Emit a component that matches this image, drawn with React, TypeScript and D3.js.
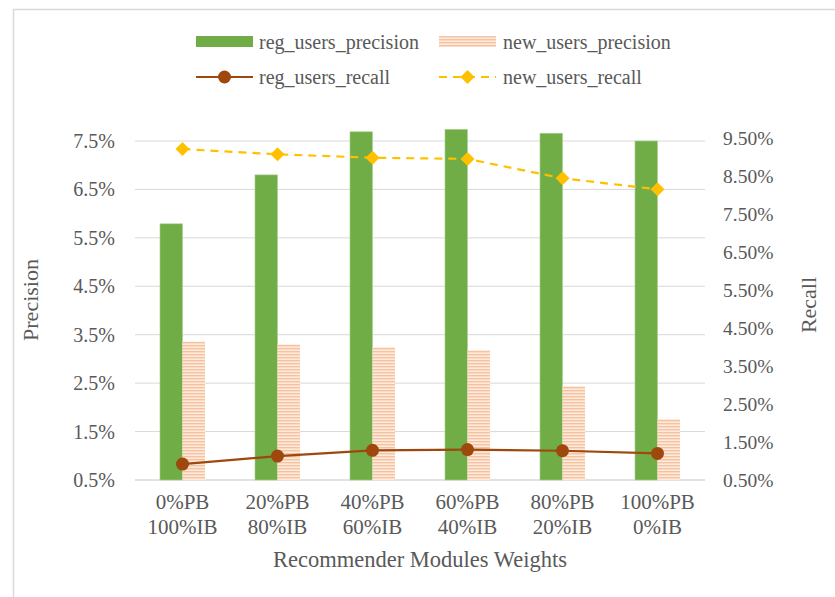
import React from "react";
import * as d3 from "d3";

const categories = [
  ["0%PB", "100%IB"],
  ["20%PB", "80%IB"],
  ["40%PB", "60%IB"],
  ["60%PB", "40%IB"],
  ["80%PB", "20%IB"],
  ["100%PB", "0%IB"],
];
const regPrecision = [5.79, 6.8, 7.69, 7.74, 7.66, 7.5];
const newPrecision = [3.36, 3.3, 3.24, 3.18, 2.44, 1.76];
const regRecall = [0.92, 1.13, 1.28, 1.3, 1.27, 1.2];
const newRecall = [9.21, 9.07, 8.98, 8.95, 8.44, 8.15];
const leftTicks = [0.5, 1.5, 2.5, 3.5, 4.5, 5.5, 6.5, 7.5];
const rightTicks = [0.5, 1.5, 2.5, 3.5, 4.5, 5.5, 6.5, 7.5, 8.5, 9.5];

const W = 835;
const H = 597;
const plotL = 135;
const plotR = 705;
const plotB = 480;

const FONT = "'Liberation Serif', 'Times New Roman', serif";
const TXT = "#595959";
const GRID = "#D9D9D9";
const GREEN = "#70AD47";
const BROWN = "#9E480E";
const GOLD = "#FFC000";

export default function App() {
  const idx = categories.map((_, i) => String(i));
  const x = d3.scaleBand().domain(idx).range([plotL, plotR]).paddingInner(0.526).paddingOuter(0.263);
  const yL = d3.scaleLinear().domain([0.5, 7.5]).range([plotB, 141]);
  const yR = d3.scaleLinear().domain([0.5, 9.5]).range([plotB, 138]);
  const bw = x.bandwidth() / 2;
  const cx = (i: number) => (x(String(i)) as number) + x.bandwidth() / 2;

  const recallLine = (vals: number[]) =>
    d3.line<number>().x((_, i) => cx(i)).y((v) => yR(v))(vals) as string;

  const diamond = (px: number, py: number, r: number) =>
    `M${px},${py - r}L${px + r},${py}L${px},${py + r}L${px - r},${py}Z`;

  return (
    <svg
      width={W}
      height={H}
      style={{ position: "absolute", left: 0, top: 0, background: "#fff" }}
      fontFamily={FONT}
    >
      <defs>
        <pattern id="hstripe" width="6" height="3" patternUnits="userSpaceOnUse">
          <rect width="6" height="3" fill="#FDEADC" />
          <rect y="0" width="6" height="1.4" fill="#F6C3A0" />
        </pattern>
      </defs>
      <rect x={13.5} y={9.5} width={W} height={H} fill="#fff" stroke={GRID} strokeWidth={1.5} />

      {/* gridlines */}
      {leftTicks.map((t) => (
        <line key={t} x1={plotL} x2={plotR} y1={yL(t)} y2={yL(t)} stroke={GRID} strokeWidth={t === 0.5 ? 1.5 : 1} />
      ))}

      {/* left axis labels */}
      {leftTicks.map((t) => (
        <text key={t} x={115} y={yL(t)} dy="0.35em" textAnchor="end" fontSize={20} fill={TXT}>
          {t.toFixed(1)}%
        </text>
      ))}
      {/* right axis labels */}
      {rightTicks.map((t) => (
        <text key={t} x={723} y={yR(t)} dy="0.35em" textAnchor="start" fontSize={19.5} fill={TXT}>
          {t.toFixed(2)}%
        </text>
      ))}

      {/* bars */}
      {regPrecision.map((v, i) => (
        <rect
          key={"g" + i}
          x={x(String(i)) as number}
          y={yL(v)}
          width={bw}
          height={plotB - yL(v)}
          fill={GREEN}
          stroke="#A9D08E"
          strokeWidth={0.6}
        />
      ))}
      {newPrecision.map((v, i) => (
        <rect
          key={"n" + i}
          x={(x(String(i)) as number) + bw}
          y={yL(v)}
          width={bw}
          height={plotB - yL(v)}
          fill="url(#hstripe)"
        />
      ))}

      {/* recall lines */}
      <path d={recallLine(regRecall)} fill="none" stroke={BROWN} strokeWidth={2.2} />
      {regRecall.map((v, i) => (
        <circle key={"c" + i} cx={cx(i)} cy={yR(v)} r={6.5} fill={BROWN} />
      ))}
      <path d={recallLine(newRecall)} fill="none" stroke={GOLD} strokeWidth={2.2} strokeDasharray="8,6" />
      {newRecall.map((v, i) => (
        <path key={"d" + i} d={diamond(cx(i), yR(v), 7)} fill={GOLD} />
      ))}

      {/* category labels */}
      {categories.map((c, i) => (
        <text key={"x" + i} x={cx(i)} textAnchor="middle" fontSize={21} fill={TXT}>
          <tspan x={cx(i)} y={509}>{c[0]}</tspan>
          <tspan x={cx(i)} y={534}>{c[1]}</tspan>
        </text>
      ))}

      {/* axis titles */}
      <text x={420} y={567} textAnchor="middle" fontSize={22.5} fill={TXT}>
        Recommender Modules Weights
      </text>
      <text transform="translate(38,300) rotate(-90)" textAnchor="middle" fontSize={22} fill={TXT}>
        Precision
      </text>
      <text transform="translate(816,305) rotate(-90)" textAnchor="middle" fontSize={22} fill={TXT}>
        Recall
      </text>

      {/* legend */}
      <g fontSize={20} fill={TXT}>
        <rect x={196} y={36} width={57} height={11} fill={GREEN} />
        <text x={259} y={42} dy="0.35em">reg_users_precision</text>
        <rect x={439} y={36} width={57} height={11} fill="url(#hstripe)" />
        <text x={503} y={42} dy="0.35em">new_users_precision</text>

        <line x1={196} x2={253} y1={77} y2={77} stroke={BROWN} strokeWidth={2.2} />
        <circle cx={224.5} cy={77} r={6.5} fill={BROWN} />
        <text x={259} y={77} dy="0.35em">reg_users_recall</text>
        <line x1={439} x2={496} y1={77} y2={77} stroke={GOLD} strokeWidth={2.2} strokeDasharray="8,6" />
        <path d={diamond(467.5, 77, 7)} fill={GOLD} />
        <text x={503} y={77} dy="0.35em">new_users_recall</text>
      </g>
    </svg>
  );
}
